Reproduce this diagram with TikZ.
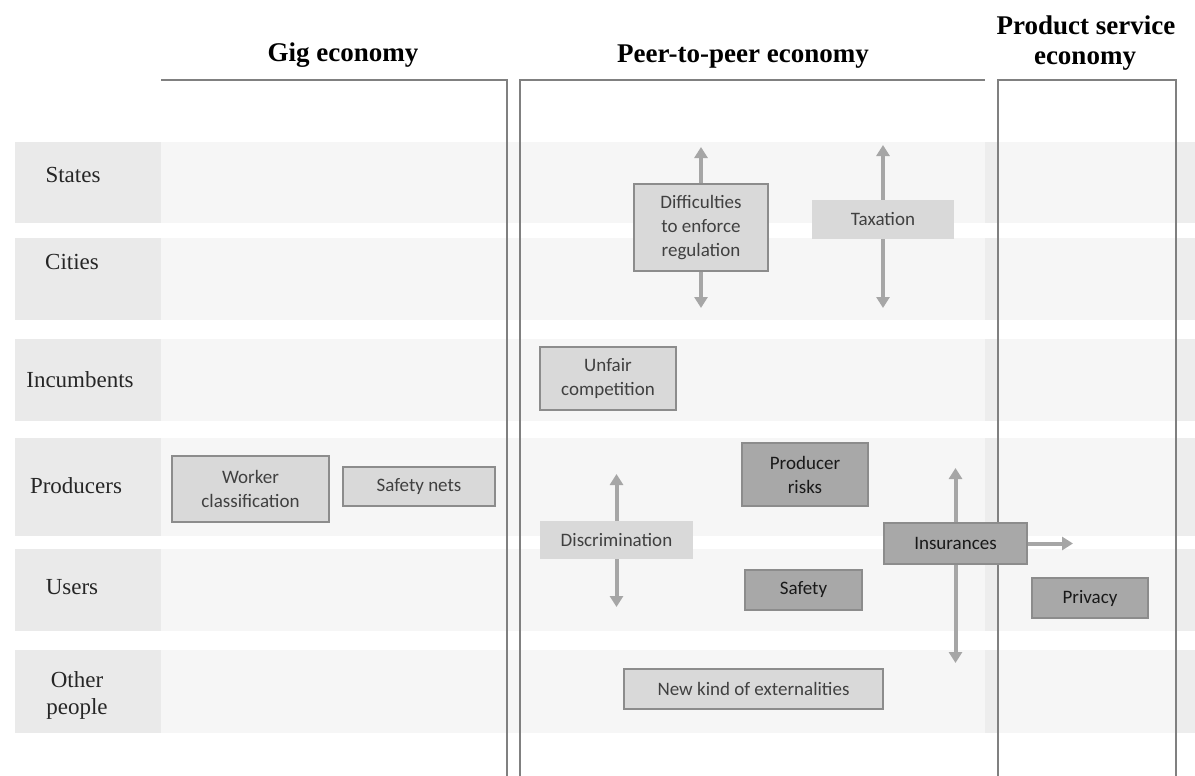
\documentclass[tikz,border=0pt]{standalone}
\usepackage{fontspec}
\setmainfont{Liberation Serif}
\newfontfamily\boxfont{Carlito}
\usetikzlibrary{arrows.meta}

\definecolor{bandgray}{HTML}{F6F6F6}
\definecolor{cellgray}{HTML}{EAEAEA}
\definecolor{stripgray}{HTML}{EDEDED}
\definecolor{boxlight}{HTML}{D9D9D9}
\definecolor{boxdark}{HTML}{A8A8A8}
\definecolor{boxline}{HTML}{8C8C8C}
\definecolor{arrowgray}{HTML}{A6A6A6}
\definecolor{linegray}{HTML}{808080}

\tikzset{
  rowlabel/.style={font=\fontsize{23}{27}\selectfont, text=black!85, align=center, inner sep=0},
  coltitle/.style={font=\bfseries\fontsize{27}{30}\selectfont, inner sep=0},
  issue/.style={font=\boxfont\fontsize{19}{24}\selectfont, align=center, inner sep=0},
  lbox/.style={issue, fill=boxlight, draw=boxline, line width=1.5pt, text=black!75},
  lflat/.style={issue, fill=boxlight, text=black!75},
  dbox/.style={issue, fill=boxdark, draw=boxline, line width=1.5pt, text=black!90},
  arr/.style={draw=arrowgray, line width=4pt, -{Triangle[length=11pt,width=13pt]}},
  colline/.style={draw=linegray, line width=2pt}
}

\begin{document}
\begin{tikzpicture}[x=1pt,y=-1pt]
\useasboundingbox (0,0) rectangle (1195,776);

% row bands
\foreach \top/\bot in {142/223, 238/320, 339/421, 438/536, 549/631, 650/733} {
  \fill[bandgray] (161,\top) rectangle (1195,\bot);
  \fill[cellgray] (15,\top) rectangle (161,\bot);
  \fill[stripgray] (985,\top) rectangle (998,\bot);
  \fill[stripgray] (1176,\top) rectangle (1195,\bot);
}

\node[rowlabel](states) at (73,175) {States};
\node[rowlabel](cities) at (72,262) {Cities};
\node[rowlabel](incumb) at (80,380) {Incumbents};
\node[rowlabel](prod) at (76,486) {Producers};
\node[rowlabel](users) at (72,587) {Users};
\node[rowlabel](other) at (77,695) {Other\\people};

% columns
\draw[colline] (161,80) -- (507,80) -- (507,776);
\draw[colline] (520,776) -- (520,80) -- (985,80);
\draw[colline] (998,776) -- (998,80) -- (1176,80) -- (1176,776);

\node[coltitle](gig) at (343,55) {Gig economy};
\node[coltitle](p2p) at (743,57) {Peer-to-peer economy};
\node[coltitle](pse1) at (1086,25) {Product service};
\node[coltitle](pse2) at (1085,61) {economy};

% issues
\node[lbox, minimum width=134pt, minimum height=87pt](diff) at (701,227.5) {Difficulties\\to enforce\\regulation};
\node[lflat, minimum width=142pt, minimum height=39pt](tax) at (883,219.5) {Taxation};
\node[lbox, minimum width=136pt, minimum height=63pt](unfair) at (608,378.5) {Unfair\\competition};
\node[lbox, minimum width=157pt, minimum height=66pt](worker) at (250.5,489) {Worker\\classification};
\node[lbox, minimum width=152pt, minimum height=39pt](nets) at (419,486.5) {Safety nets};
\node[lflat, minimum width=153pt, minimum height=38pt](discr) at (616.5,540) {Discrimination};
\node[dbox, minimum width=126pt, minimum height=63pt](risks) at (805,474.5) {Producer\\risks};
\node[dbox, minimum width=117pt, minimum height=40pt](safety) at (803.5,590) {Safety};
\node[dbox, minimum width=143pt, minimum height=41pt](insur) at (955.5,543.5) {Insurances};
\node[dbox, minimum width=116pt, minimum height=40pt](privacy) at (1090,598) {Privacy};
\node[lbox, minimum width=259pt, minimum height=40pt](extern) at (753.5,689) {New kind of externalities};

% scope arrows
\coordinate(diffup) at (701,147);
\coordinate(diffdown) at (701,308);
\coordinate(taxup) at (883,145);
\coordinate(taxdown) at (883,308);
\coordinate(discrup) at (616.5,474);
\coordinate(discrdown) at (616.5,607);
\coordinate(insurup) at (955.5,468);
\coordinate(insurdown) at (955.5,663);
\coordinate(insurright) at (1073,543.5);

\draw[arr] (diff.north) -- (diffup);
\draw[arr] (diff.south) -- (diffdown);
\draw[arr] (tax.north) -- (taxup);
\draw[arr] (tax.south) -- (taxdown);
\draw[arr] (discr.north) -- (discrup);
\draw[arr] (discr.south) -- (discrdown);
\draw[arr] (insur.north) -- (insurup);
\draw[arr] (insur.south) -- (insurdown);
\draw[arr] (insur.east) -- (insurright);

\end{tikzpicture}
\end{document}
